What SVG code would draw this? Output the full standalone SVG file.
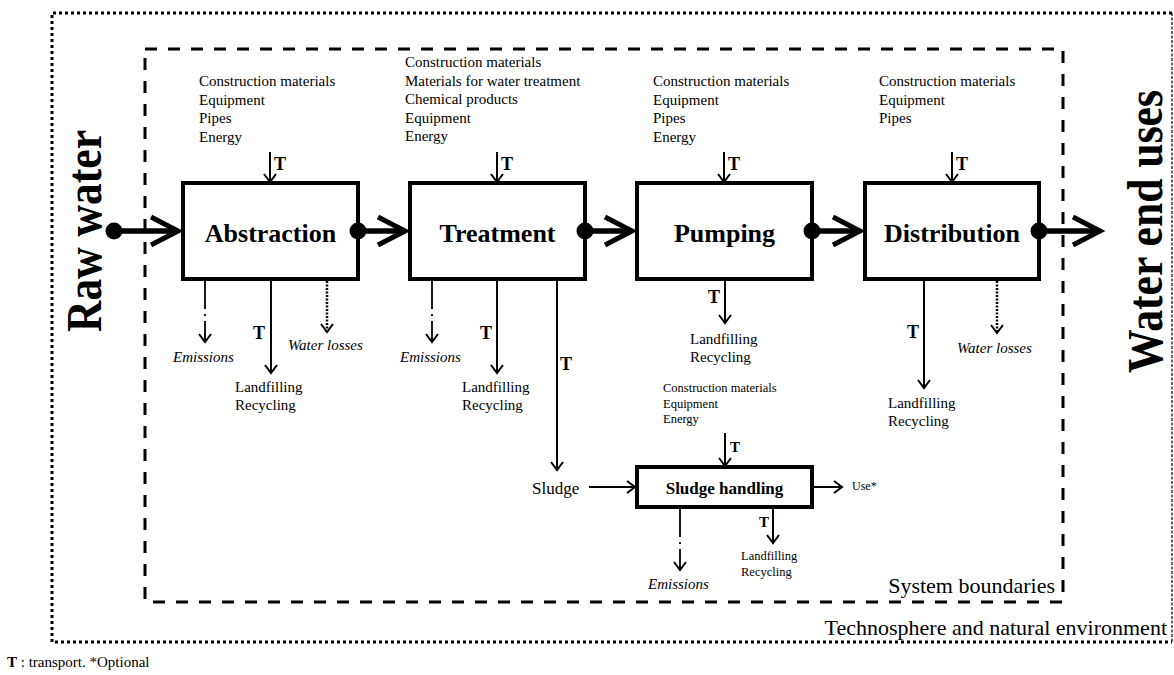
<svg xmlns="http://www.w3.org/2000/svg" width="1174" height="675" viewBox="0 0 1174 675" font-family="'Liberation Serif', 'DejaVu Serif', serif">
<style>
text{font-family:'Liberation Serif','DejaVu Serif',serif;fill:#000}
.box{fill:#fff;stroke:#000;stroke-width:4}
.title{font-size:26px;font-weight:bold;text-anchor:middle}
.lst{font-size:15px}
.sm{font-size:12.5px}
.em{font-size:15px;font-style:italic}
.t{font-size:18px;font-weight:bold}
.ts{font-size:15px;font-weight:bold}
.big{font-size:50px;font-weight:bold;text-anchor:middle}
.flow{stroke:#000;stroke-width:5.5;fill:none}
.chev{stroke:#000;stroke-width:5;fill:none}
.arr{stroke:#000;stroke-width:2;fill:none;marker-end:url(#ah)}
.dd{stroke:#000;stroke-width:1.8;fill:none;stroke-dasharray:28 5 2 5;marker-end:url(#ah)}
.dot{stroke:#000;stroke-width:2.5;fill:none;stroke-dasharray:2 1.5;marker-end:url(#ah)}
.bnd{font-size:22px}
</style>
<defs>
<marker id="ah" markerUnits="userSpaceOnUse" markerWidth="20" markerHeight="20" viewBox="-10 -10 20 20" refX="0" refY="0" orient="auto" overflow="visible">
<path d="M-8,-6 L0,0 L-8,6" fill="none" stroke="#000" stroke-width="2"/>
</marker>
</defs>
<rect width="1174" height="675" fill="#fff"/>
<g id="environment-boundary">
<polyline points="1172,13 52,13 52,642 1172,642" fill="none" stroke="#000" stroke-width="3" stroke-dasharray="3 3"/>
<line x1="1172" y1="13" x2="1172" y2="642" stroke="#000" stroke-width="1.2" stroke-dasharray="3 1.5"/>
<text class="bnd" x="1167" y="635" text-anchor="end">Technosphere and natural environment</text>
</g>
<g id="system-boundary">
<rect x="145" y="49" width="918" height="553" fill="none" stroke="#000" stroke-width="3" stroke-dasharray="12 11"/>
<text class="bnd" x="1055" y="593" text-anchor="end">System boundaries</text>
</g>
<g id="raw-water"><text class="big" transform="translate(101,231) rotate(-90)" textLength="202" lengthAdjust="spacingAndGlyphs">Raw water</text></g>
<g id="water-end-uses"><text class="big" transform="translate(1162,231.5) rotate(-90)" textLength="283" lengthAdjust="spacingAndGlyphs">Water end uses</text></g>
<g id="node-abstraction">
<rect class="box" x="183" y="183" width="175" height="96"/>
<text class="title" x="270.5" y="242">Abstraction</text>
</g>
<g id="node-treatment">
<rect class="box" x="410" y="183" width="175" height="96"/>
<text class="title" x="497.5" y="242">Treatment</text>
</g>
<g id="node-pumping">
<rect class="box" x="637" y="183" width="175" height="96"/>
<text class="title" x="724.5" y="242">Pumping</text>
</g>
<g id="node-distribution">
<rect class="box" x="865" y="183" width="174" height="96"/>
<text class="title" x="952" y="242">Distribution</text>
</g>
<g id="node-sludge-handling">
<rect class="box" x="637" y="467" width="175" height="40" stroke-width="3.5"/>
<text x="724.5" y="494" font-size="17" font-weight="bold" text-anchor="middle">Sludge  handling</text>
</g>
<g id="inputs-abstraction">
<text class="lst" x="199" y="86">Construction materials</text>
<text class="lst" x="199" y="104.5">Equipment</text>
<text class="lst" x="199" y="123">Pipes</text>
<text class="lst" x="199" y="141.5">Energy</text>
</g>
<g id="inputs-treatment">
<text class="lst" x="405" y="67">Construction materials</text>
<text class="lst" x="405" y="85.5">Materials  for water treatment</text>
<text class="lst" x="405" y="104">Chemical  products</text>
<text class="lst" x="405" y="122.5">Equipment</text>
<text class="lst" x="405" y="141">Energy</text>
</g>
<g id="inputs-pumping">
<text class="lst" x="653" y="86">Construction materials</text>
<text class="lst" x="653" y="104.5">Equipment</text>
<text class="lst" x="653" y="123">Pipes</text>
<text class="lst" x="653" y="141.5">Energy</text>
</g>
<g id="inputs-distribution">
<text class="lst" x="879" y="86">Construction materials</text>
<text class="lst" x="879" y="104.5">Equipment</text>
<text class="lst" x="879" y="123">Pipes</text>
</g>
<g id="inputs-sludge">
<text class="sm" x="663" y="392">Construction  materials</text>
<text class="sm" x="663" y="407.5">Equipment</text>
<text class="sm" x="663" y="423">Energy</text>
</g>
<g id="outputs-abstraction">
<text class="em" x="173" y="362">Emissions</text>
<text class="lst" x="235" y="392">Landfilling</text>
<text class="lst" x="235" y="410">Recycling</text>
<text class="em" x="288" y="350">Water losses</text>
</g>
<g id="outputs-treatment">
<text class="em" x="400" y="362">Emissions</text>
<text class="lst" x="462" y="392">Landfilling</text>
<text class="lst" x="462" y="410">Recycling</text>
</g>
<g id="sludge"><text x="532" y="494" font-size="17">Sludge</text></g>
<g id="outputs-pumping">
<text class="lst" x="690" y="344">Landfilling</text>
<text class="lst" x="690" y="362">Recycling</text>
</g>
<g id="outputs-distribution">
<text class="lst" x="888" y="408">Landfilling</text>
<text class="lst" x="888" y="426">Recycling</text>
<text class="em" x="957" y="353">Water losses</text>
</g>
<g id="outputs-sludge">
<text x="852" y="490" font-size="12">Use*</text>
<text class="em" x="648" y="589">Emissions</text>
<text class="sm" x="741" y="560">Landfilling</text>
<text class="sm" x="741" y="576">Recycling</text>
</g>
<g id="connectors">
<circle cx="114" cy="231" r="8.5"/>
<line class="flow" x1="114" y1="231" x2="178" y2="231"/>
<path class="chev" d="M151,217 L178,231 L151,245"/>
<circle cx="358" cy="231" r="8.5"/>
<line class="flow" x1="358" y1="231" x2="405" y2="231"/>
<path class="chev" d="M378,217 L405,231 L378,245"/>
<circle cx="585" cy="231" r="8.5"/>
<line class="flow" x1="585" y1="231" x2="632" y2="231"/>
<path class="chev" d="M605,217 L632,231 L605,245"/>
<circle cx="812" cy="231" r="8.5"/>
<line class="flow" x1="812" y1="231" x2="860" y2="231"/>
<path class="chev" d="M833,217 L860,231 L833,245"/>
<circle cx="1039" cy="231" r="8.5"/>
<line class="flow" x1="1039" y1="231" x2="1100" y2="231"/>
<path class="chev" d="M1073,217 L1100,231 L1073,245"/>
<line class="arr" x1="270" y1="152" x2="270" y2="182"/>
<line class="arr" x1="497" y1="152" x2="497" y2="182"/>
<line class="arr" x1="724" y1="152" x2="724" y2="182"/>
<line class="arr" x1="952" y1="152" x2="952" y2="182"/>
<text class="t" x="274" y="170">T</text>
<text class="t" x="501" y="170">T</text>
<text class="t" x="728" y="170">T</text>
<text class="t" x="956" y="170">T</text>
<line class="dd" x1="205" y1="281" x2="205" y2="342"/>
<line class="arr" x1="271" y1="281" x2="271" y2="373"/>
<line class="dot" x1="327" y1="281" x2="327" y2="332"/>
<text class="t" x="253" y="339">T</text>
<line class="dd" x1="432" y1="281" x2="432" y2="342"/>
<line class="arr" x1="497" y1="281" x2="497" y2="373"/>
<text class="t" x="480" y="339">T</text>
<line class="arr" x1="557" y1="281" x2="557" y2="470"/>
<text class="t" x="560" y="370">T</text>
<line class="arr" x1="725" y1="281" x2="725" y2="323"/>
<text class="t" x="708" y="303">T</text>
<line class="arr" x1="924" y1="281" x2="924" y2="388"/>
<text class="t" x="907" y="338">T</text>
<line class="dot" x1="997" y1="281" x2="997" y2="333"/>
<line class="arr" x1="589" y1="487" x2="635" y2="487"/>
<line class="arr" x1="725" y1="433" x2="725" y2="466"/>
<text class="ts" x="730" y="452">T</text>
<line class="arr" x1="814" y1="487" x2="842" y2="487"/>
<line class="dd" x1="680" y1="509" x2="680" y2="570"/>
<line class="arr" x1="773" y1="509" x2="773" y2="543"/>
<text class="ts" x="759" y="527">T</text>
</g>
<g id="legend"><text x="7" y="667" font-size="15"><tspan font-weight="bold">T</tspan> : transport. *Optional</text></g>
</svg>
